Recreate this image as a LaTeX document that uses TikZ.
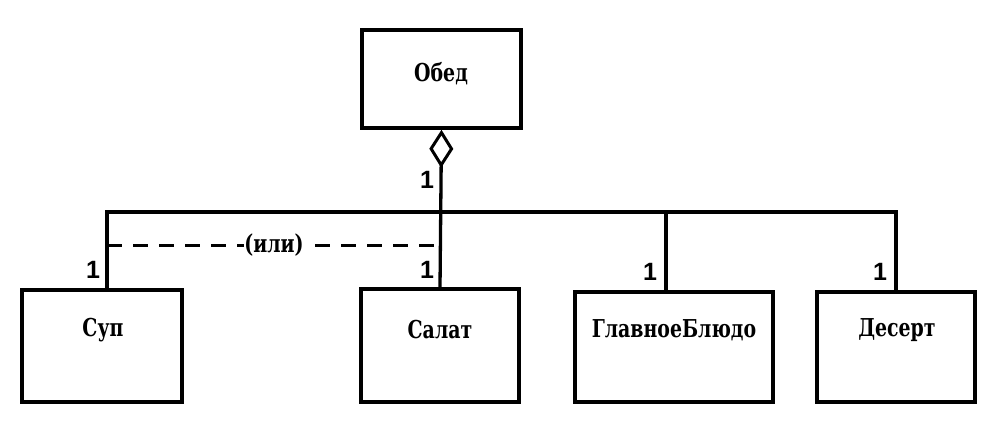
\documentclass[tikz,border=0pt]{standalone}
\usepackage{fontspec}
\newfontfamily\slabfont{DejaVu Serif}
\newfontfamily\digitfont{Liberation Sans}
\usetikzlibrary{arrows.meta}
\newcommand\mytt[1]{\scalebox{0.86}[1.12]{\fontsize{22}{26}\selectfont\slabfont\bfseries #1}}
\begin{document}
\begin{tikzpicture}[x=1pt,y=-1pt,
  box/.style={draw, line width=3.6pt, inner sep=0pt},
  conn/.style={line width=3.3pt},
  dashconn/.style={line width=3pt, dash pattern=on 15pt off 11pt},
  mult/.style={font=\digitfont\bfseries\fontsize{25}{27}\selectfont, inner sep=0pt},
  title/.style={inner sep=0pt}
]
\useasboundingbox (0,0) rectangle (995,420);
% boxes
\node[box, minimum width=159pt, minimum height=98pt] (obed) at (441.5,79) {};
\node[box, minimum width=160pt, minimum height=112pt] (sup) at (102,346) {};
\node[box, minimum width=158pt, minimum height=113pt] (salat) at (440,345.5) {};
\node[box, minimum width=198pt, minimum height=110pt] (glav) at (674,347) {};
\node[box, minimum width=158pt, minimum height=110pt] (desert) at (896,347) {};
% titles
\node[title] (obedT) at (441,74) {\mytt{Обед}};
\node[title] (supT) at (103,330) {\mytt{Суп}};
\node[title] (salatT) at (440,330) {\mytt{Салат}};
\node[title] (glavT) at (674,330) {\mytt{ГлавноеБлюдо}};
\node[title] (desertT) at (897,330) {\mytt{Десерт}};
% junction coordinates
\coordinate (jsal) at (441,212);
\coordinate (jsup) at (107,212);
\coordinate (jglav) at (666,212);
\coordinate (jdes) at (896,212);
\coordinate (dsup) at (107,245);
\coordinate (dsal) at (441,245);
% aggregation
\draw[conn, {Diamond[open, length=38pt, width=24pt, line width=3pt]}-] (obed.south) -- (salat.north);
\draw[conn, line cap=rect] (jsup) -- (jdes);
\draw[conn] (jsup) -- (sup.north -| jsup);
\draw[conn] (jglav) -- (glav.north -| jglav);
\draw[conn] (jdes) -- (desert.north -| jdes);
% or constraint
\draw[dashconn] (dsup) -- node[fill=white, inner sep=0.5pt] (ili) {\mytt{(или)}} (dsal);
% multiplicities
\node[mult] (m0) at (427,180) {1};
\node[mult] (m1) at (93,270) {1};
\node[mult] (m2) at (427,270) {1};
\node[mult] (m3) at (650,272) {1};
\node[mult] (m4) at (880,272) {1};
\end{tikzpicture}
\end{document}
